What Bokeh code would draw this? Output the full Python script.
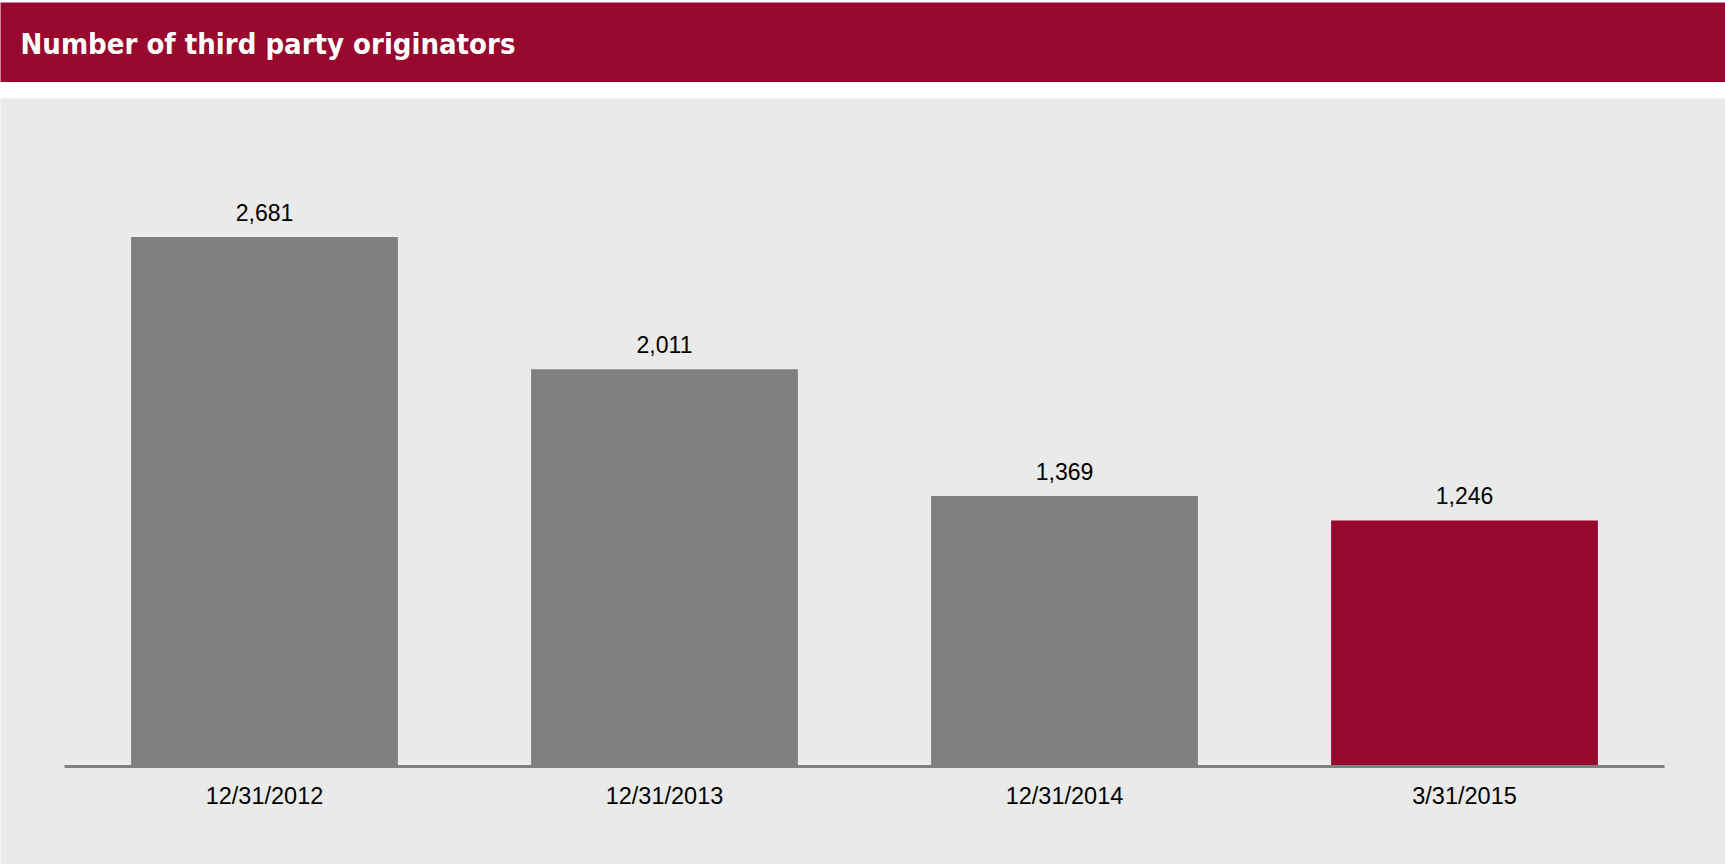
from bokeh.plotting import figure
from bokeh.models import Range1d, Spacer, ColumnDataSource
from bokeh.layouts import column
from bokeh.core.properties import value
from bokeh.embed import file_html
from bokeh.resources import INLINE

# ---- data ----
title_text = "Number of third party originators"
categories = ["12/31/2012", "12/31/2013", "12/31/2014", "3/31/2015"]
originators = [2681, 2011, 1369, 1246]
highlight = "3/31/2015"

# ---- styles ----
CRIMSON = "#98072D"
GREY_BAR = "#808080"
PANEL = "#EAEAEA"
W = 1725
H_BANNER = 80
H_MAIN = 766
SLOT = 400.0          # px per category
LEFT_PAD = 64.0       # px left of first category slot
RIGHT_PAD = 61.0
BASE_PX = 98.0        # baseline distance from canvas bottom
PX_PER_UNIT = 0.1975

n = len(categories)
xpos = [i + 0.5 for i in range(n)]
labels = [f"{v:,}" for v in originators]
colors = [CRIMSON if c == highlight else GREY_BAR for c in categories]
src = ColumnDataSource(dict(x=xpos, cat=categories, val=originators, lab=labels,
                            col=colors, zero=[0] * n))

# ---- banner ----
banner = figure(width=W, height=H_BANNER, x_range=Range1d(0, W), y_range=Range1d(0, H_BANNER),
                output_backend="svg", toolbar_location=None,
                x_axis_location=None, y_axis_location=None, min_border=0)
banner.background_fill_color = CRIMSON
banner.border_fill_color = CRIMSON
banner.outline_line_color = None
banner.grid.visible = False
banner.text(x=[20], y=[39], text=[title_text], text_color="white",
            text_font=value("'DejaVu Sans Condensed', 'Liberation Sans'"),
            text_font_style="bold",
            text_font_size="29px", text_baseline="middle", text_align="left")

top_gap = Spacer(width=W, height=2)
gap = Spacer(width=W, height=16)

# ---- main chart ----
x_range = Range1d(-LEFT_PAD / SLOT, n + RIGHT_PAD / SLOT)
y_range = Range1d(-BASE_PX / PX_PER_UNIT, (H_MAIN - BASE_PX) / PX_PER_UNIT)
p = figure(width=W, height=H_MAIN, x_range=x_range, y_range=y_range,
           output_backend="svg", toolbar_location=None,
           x_axis_location=None, y_axis_location=None, min_border=0)
p.background_fill_color = PANEL
p.border_fill_color = PANEL
p.outline_line_color = None
p.grid.visible = False

p.vbar(x="x", top="val", width=0.667, bottom=0, source=src,
       fill_color="col", line_color=None)
p.segment(x0=[0], x1=[n], y0=[0], y1=[0], line_color="#808080", line_width=3)
p.text(x="x", y="val", text="lab", source=src, y_offset=-24.5,
       text_align="center", text_baseline="middle",
       text_font=value("Liberation Sans"), text_font_size="23px", text_color="black")
p.text(x="x", y="zero", text="cat", source=src, y_offset=29,
       text_align="center", text_baseline="middle",
       text_font=value("Liberation Sans"), text_font_size="23.5px", text_color="black")

layout = column(top_gap, banner, gap, p, spacing=0)
open("out.html", "w").write(file_html(layout, INLINE))
